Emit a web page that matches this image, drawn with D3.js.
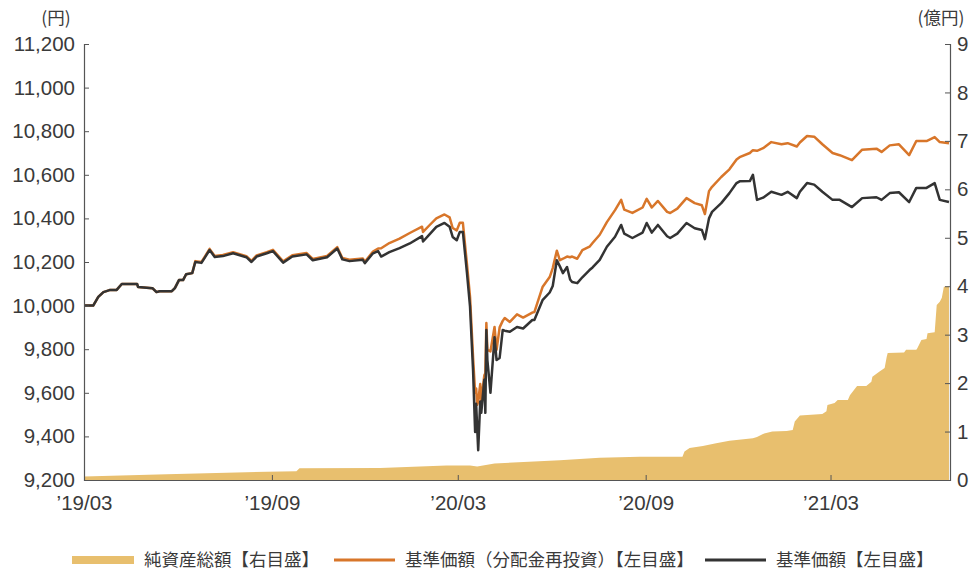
<!DOCTYPE html>
<html>
<head>
<meta charset="utf-8">
<script src="https://cdn.jsdelivr.net/npm/d3@7"></script>
<style>
  body { margin: 0; background: #fff; }
  svg { font-family: "Noto Sans CJK JP", "Noto Sans", sans-serif; }
  .axis path, .axis line { stroke: #555; }
  .axis text { fill: #3a3a3a; font-size: 20.5px; }
</style>
</head>
<body>
<svg id="chart" width="970" height="572"></svg>
<script>
// price dates (daily NAV, sampled)
const priceDates = [
  '2019-03-01','2019-03-10','2019-03-15','2019-03-20','2019-03-26','2019-04-02','2019-04-07','2019-04-22',
  '2019-04-23','2019-05-07','2019-05-11','2019-05-14','2019-05-26','2019-05-29','2019-06-02','2019-06-06',
  '2019-06-09','2019-06-15','2019-06-18','2019-06-24','2019-06-27','2019-07-02','2019-07-07','2019-07-15',
  '2019-07-25','2019-08-07','2019-08-12','2019-08-17','2019-08-27','2019-09-02','2019-09-12','2019-09-21',
  '2019-10-05','2019-10-11','2019-10-25','2019-11-04','2019-11-09','2019-11-16','2019-11-29','2019-12-01',
  '2019-12-09','2019-12-14','2019-12-17','2019-12-25','2020-01-04','2020-01-14','2020-01-26','2020-01-27',
  '2020-02-03','2020-02-09','2020-02-17','2020-02-22','2020-02-25','2020-02-29','2020-03-03','2020-03-06',
  '2020-03-10','2020-03-13','2020-03-16','2020-03-18','2020-03-19','2020-03-20','2020-03-21','2020-03-23',
  '2020-03-24','2020-03-27','2020-03-28','2020-03-29','2020-03-30','2020-04-02','2020-04-06','2020-04-08',
  '2020-04-11','2020-04-14','2020-04-16','2020-04-21','2020-04-28','2020-05-04','2020-05-13','2020-05-15',
  '2020-05-23','2020-05-30','2020-06-02','2020-06-06','2020-06-09','2020-06-12','2020-06-16','2020-06-19',
  '2020-06-21','2020-06-26','2020-07-01','2020-07-08','2020-07-11','2020-07-18','2020-07-25','2020-08-02',
  '2020-08-08','2020-08-11','2020-08-19','2020-08-29','2020-09-02','2020-09-07','2020-09-13','2020-09-22',
  '2020-09-25','2020-10-02','2020-10-11','2020-10-19','2020-10-26','2020-10-29','2020-11-02','2020-11-05',
  '2020-11-14','2020-11-22','2020-11-29','2020-12-02','2020-12-12','2020-12-15','2020-12-19','2020-12-25',
  '2021-01-02','2021-01-12','2021-01-18','2021-01-27','2021-01-30','2021-02-06','2021-02-13','2021-02-21',
  '2021-03-03','2021-03-10','2021-03-22','2021-04-01','2021-04-15','2021-04-20','2021-04-28','2021-05-07',
  '2021-05-17','2021-05-24','2021-06-03','2021-06-11','2021-06-16','2021-06-25'
]

// 基準価額 (left axis, yen)
const navValues = [
  10000,10000,10040,10062,10071,10072,10099,10099,
  10085,10080,10062,10066,10066,10080,10117,10117,
  10144,10149,10200,10196,10218,10255,10223,10227,
  10240,10222,10200,10225,10240,10250,10197,10225,
  10235,10208,10222,10262,10212,10204,10210,10195,
  10240,10250,10225,10245,10264,10285,10319,10294,
  10330,10361,10379,10362,10315,10300,10338,10338,
  10150,9995,9700,9420,9550,9440,9337,9560,
  9508,9660,9508,9888,9750,9600,9855,9750,
  9760,9888,9885,9880,9902,9895,9934,9934,
  10025,10060,10090,10208,10180,10149,10177,10120,
  10108,10103,10130,10163,10175,10210,10270,10316,
  10370,10330,10310,10335,10379,10335,10370,10318,
  10310,10330,10379,10355,10347,10305,10400,10430,
  10470,10516,10562,10570,10571,10600,10485,10495,
  10522,10508,10522,10493,10522,10562,10555,10522,
  10485,10485,10452,10493,10497,10485,10516,10520,
  10475,10540,10540,10562,10485,10475
]

// 基準価額（分配金再投資） (left axis, yen)
const reinvValues = [
  10000,10000,10040,10062,10071,10072,10099,10099,
  10085,10080,10062,10066,10066,10080,10117,10117,
  10144,10149,10204,10200,10222,10260,10228,10232,
  10245,10227,10205,10230,10245,10256,10203,10231,
  10241,10214,10228,10268,10218,10210,10216,10201,
  10248,10262,10263,10287,10307,10333,10362,10338,
  10372,10400,10418,10405,10356,10345,10380,10380,
  10190,10040,9760,9600,9620,9545,9560,9640,
  9560,9680,9690,9920,9797,9790,9902,9797,
  9900,9930,9943,9925,9960,9945,9968,9970,
  10085,10131,10172,10252,10208,10215,10225,10222,
  10225,10215,10254,10270,10287,10325,10383,10438,
  10485,10440,10425,10450,10490,10450,10480,10430,
  10425,10445,10493,10470,10460,10420,10525,10545,
  10590,10625,10670,10681,10700,10713,10710,10722,
  10750,10740,10745,10730,10748,10778,10775,10740,
  10700,10690,10667,10715,10720,10705,10735,10740,
  10690,10755,10755,10773,10750,10745
]

// 純資産総額 (right axis, 億円)
const assetDates = [
  '2019-03-01','2019-05-21','2019-08-27','2019-09-25','2019-09-28','2019-12-16','2020-02-19','2020-03-13',
  '2020-03-20','2020-04-06','2020-06-09','2020-07-18','2020-08-26','2020-10-07','2020-10-09','2020-10-14',
  '2020-10-27','2020-11-09','2020-11-22','2020-12-15','2020-12-19','2020-12-26','2021-01-03','2021-01-17',
  '2021-01-23','2021-01-25','2021-01-30','2021-02-21','2021-02-25','2021-02-26','2021-03-05','2021-03-08',
  '2021-03-18','2021-03-20','2021-03-27','2021-04-05','2021-04-10','2021-04-11','2021-04-18','2021-04-23',
  '2021-04-25','2021-04-26','2021-05-12','2021-05-14','2021-05-24','2021-05-25','2021-05-29','2021-06-03',
  '2021-06-04','2021-06-11','2021-06-13','2021-06-16','2021-06-18','2021-06-20','2021-06-25'
]
const assetValues = [
  0.07,0.12,0.17,0.18,0.24,0.25,0.30,0.30,
  0.28,0.34,0.41,0.46,0.48,0.48,0.59,0.66,
  0.70,0.76,0.81,0.86,0.89,0.96,1.00,1.01,
  1.03,1.21,1.33,1.36,1.42,1.55,1.59,1.65,
  1.65,1.75,1.94,1.94,2.03,2.13,2.24,2.31,
  2.54,2.62,2.63,2.69,2.69,2.72,2.89,2.91,
  3.03,3.05,3.61,3.68,3.76,3.99,4.00
]

const leftTicks = [9200, 9400, 9600, 9800, 10000, 10200, 10400, 10600, 10800, 11000, 11200]
const rightTicks = [0, 1, 2, 3, 4, 5, 6, 7, 8, 9]
const xTicks = ['2019-03-01', '2019-09-01', '2020-03-01', '2020-09-01', '2021-03-01']
const xDomain = ['2019-03-01', '2021-06-26']

const legendLabels = ['純資産総額【右目盛】', '基準価額（分配金再投資）【左目盛】', '基準価額【左目盛】']
const colors = { assets: '#e8bf6e', reinv: '#d8762a', nav: '#333333' }

document.addEventListener('DOMContentLoaded', start)

function start () {
  const parse = d3.timeParse('%Y-%m-%d')
  const svg = d3.select('#chart')
  const left = 84, right = 950, top = 44, bottom = 480

  const x = d3.scaleTime().domain(xDomain.map(parse)).range([left, right])
  const yL = d3.scaleLinear().domain([9200, 11200]).range([bottom, top])
  const yR = d3.scaleLinear().domain([0, 9]).range([bottom, top])

  const prices = priceDates.map((d, i) => ({ date: parse(d), nav: navValues[i], reinv: reinvValues[i] }))
  const assets = assetDates.map((d, i) => ({ date: parse(d), v: assetValues[i] }))

  // net assets area
  svg.append('path')
    .datum(assets)
    .attr('fill', colors.assets)
    .attr('d', d3.area().x(d => x(d.date)).y0(yR(0)).y1(d => yR(d.v)))

  const line = key => d3.line().x(d => x(d.date)).y(d => yL(d[key]))
  svg.append('path')
    .datum(prices)
    .attr('fill', 'none')
    .attr('stroke', colors.reinv)
    .attr('stroke-width', 2.5)
    .attr('stroke-linejoin', 'round')
    .attr('d', line('reinv'))
  svg.append('path')
    .datum(prices)
    .attr('fill', 'none')
    .attr('stroke', colors.nav)
    .attr('stroke-width', 2.5)
    .attr('stroke-linejoin', 'round')
    .attr('d', line('nav'))

  // axes
  svg.append('g')
    .attr('class', 'axis')
    .attr('transform', `translate(${left},0)`)
    .call(d3.axisLeft(yL).tickValues(leftTicks).tickSize(-5).tickPadding(9).tickFormat(d3.format(',')))
  svg.append('g')
    .attr('class', 'axis')
    .attr('transform', `translate(${right},0)`)
    .call(d3.axisRight(yR).tickValues(rightTicks).tickSize(-5).tickPadding(7))
  svg.append('g')
    .attr('class', 'axis')
    .attr('transform', `translate(0,${bottom})`)
    .call(d3.axisBottom(x).tickValues(xTicks.map(parse)).tickSize(-5).tickSizeOuter(0).tickPadding(15)
      .tickFormat(d3.timeFormat('’%y/%m')))
  svg.selectAll('.axis .domain').attr('stroke-width', 1.2)

  // units
  svg.append('text').attr('x', 56).attr('y', 24).attr('text-anchor', 'middle')
    .attr('fill', '#3a3a3a').attr('font-size', 17.5).text('(円)')
  svg.append('text').attr('x', 941).attr('y', 24).attr('text-anchor', 'middle')
    .attr('fill', '#3a3a3a').attr('font-size', 17.5).text('(億円)')

  // legend
  const legendX = [72, 334, 705]
  const lg = svg.append('g').attr('font-size', 17.5).attr('fill', '#3a3a3a')
  legendLabels.forEach((label, i) => {
    const g = lg.append('g').attr('transform', `translate(${legendX[i]},560)`)
    if (i === 0) {
      g.append('rect').attr('x', 0).attr('y', -4).attr('width', 62).attr('height', 8).attr('fill', colors.assets)
    } else {
      g.append('line').attr('x1', 0).attr('x2', 61).attr('y1', 0).attr('y2', 0)
        .attr('stroke', i === 1 ? colors.reinv : colors.nav).attr('stroke-width', 3)
    }
    g.append('text').attr('x', i === 0 ? 72 : 71).attr('y', 0).attr('dy', '0.35em').text(label)
  })
}
</script>
</body>
</html>
